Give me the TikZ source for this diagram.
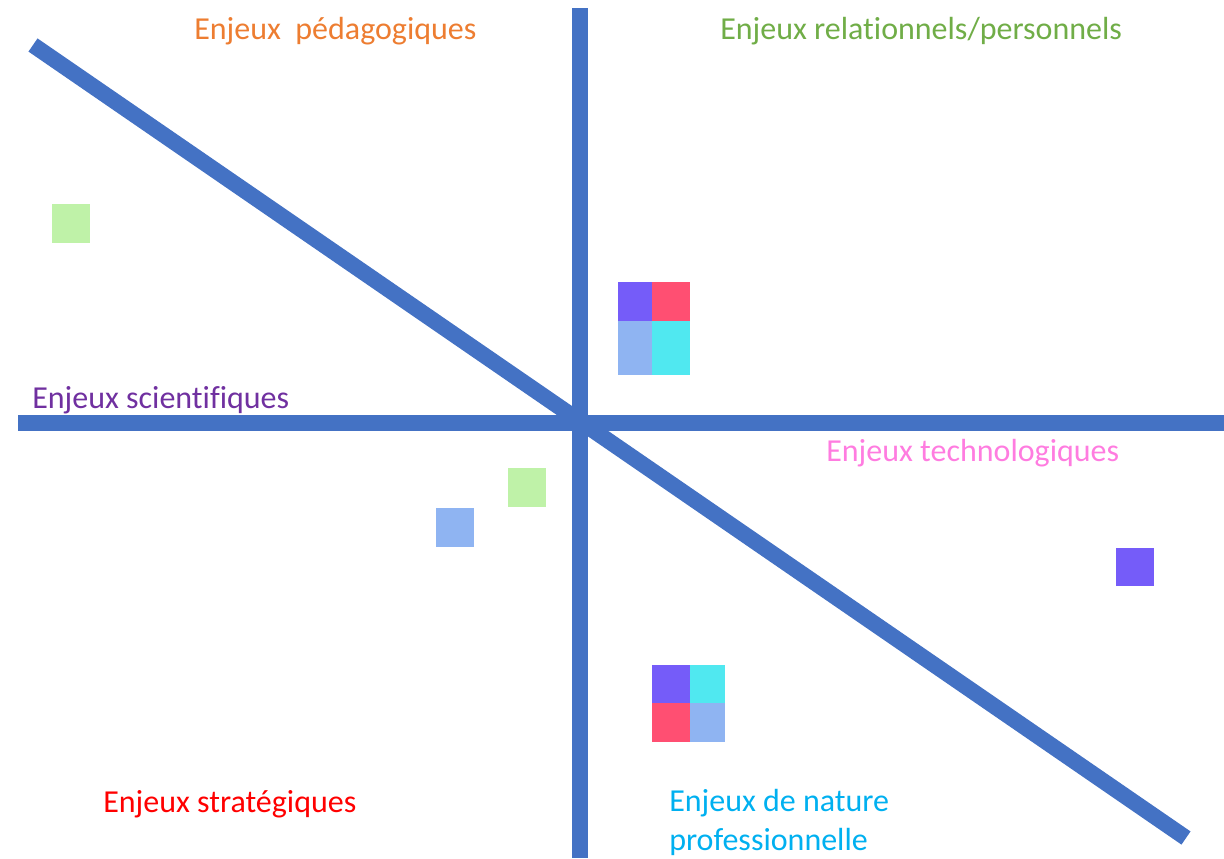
\documentclass[tikz,border=0pt]{standalone}
\usepackage{fontspec}
\setmainfont{Carlito}[Ligatures=NoCommon]
\definecolor{axisblue}{HTML}{4472C4}
\definecolor{sqpurple}{HTML}{755CF9}
\definecolor{sqred}{HTML}{FF4F72}
\definecolor{sqblue}{HTML}{8FB4F2}
\definecolor{sqcyan}{HTML}{50E8F0}
\definecolor{sqgreen}{HTML}{BFF2A8}
\definecolor{txtorange}{HTML}{ED7D31}
\definecolor{txtgreen}{HTML}{70AD47}
\definecolor{txtpurple}{HTML}{7030A0}
\definecolor{txtpink}{HTML}{FF7CE0}
\definecolor{txtred}{HTML}{FF0000}
\definecolor{txtcyan}{HTML}{00B0F0}
\tikzset{
  axe/.style={axisblue, line width=12pt},
  enjeu/.style={anchor=base west, inner sep=0pt, font=\fontsize{24}{29.5}\selectfont}
}

\begin{document}
\begin{tikzpicture}[x=0.75pt, y=-0.75pt]
\useasboundingbox (0,0) rectangle (1224,858);

% axes
\draw[axe] (580,8) -- (580,858);
\draw[axe] (18,423) -- (1224,423);
\draw[axe] (33,45) -- (1186,838);

% squares
\fill[sqgreen] (52,204) rectangle (90,243);
\begin{scope}
\fill[sqpurple] (618,282) rectangle (652,321);
\fill[sqred] (652,282) rectangle (690,321);
\fill[sqblue] (618,321) rectangle (652,375);
\fill[sqcyan] (652,321) rectangle (690,375);
\end{scope}
\fill[sqgreen] (508,468) rectangle (546,507);
\fill[sqblue] (436,508) rectangle (474,547);
\fill[sqpurple] (1116,548) rectangle (1154,586);
\begin{scope}
\fill[sqpurple] (652,665) rectangle (690,703);
\fill[sqcyan] (690,665) rectangle (725,703);
\fill[sqred] (652,703) rectangle (690,742);
\fill[sqblue] (690,703) rectangle (725,742);
\end{scope}

% labels
\node[enjeu, txtorange] (peda) at (194,39) {Enjeux\ \ pédagogiques};
\node[enjeu, txtgreen] (rel) at (720,39) {Enjeux relationnels/personnels};
\node[enjeu, txtpurple] (sci) at (32,408) {Enjeux scientifiques};
\node[enjeu, txtpink] (techno) at (826,461) {Enjeux technologiques};
\node[enjeu, txtred] (strat) at (103,812) {Enjeux stratégiques};
\node[enjeu, txtcyan, align=left, anchor=north west] (pro) at (669,789) {Enjeux de nature\\professionnelle};
\end{tikzpicture}
\end{document}
